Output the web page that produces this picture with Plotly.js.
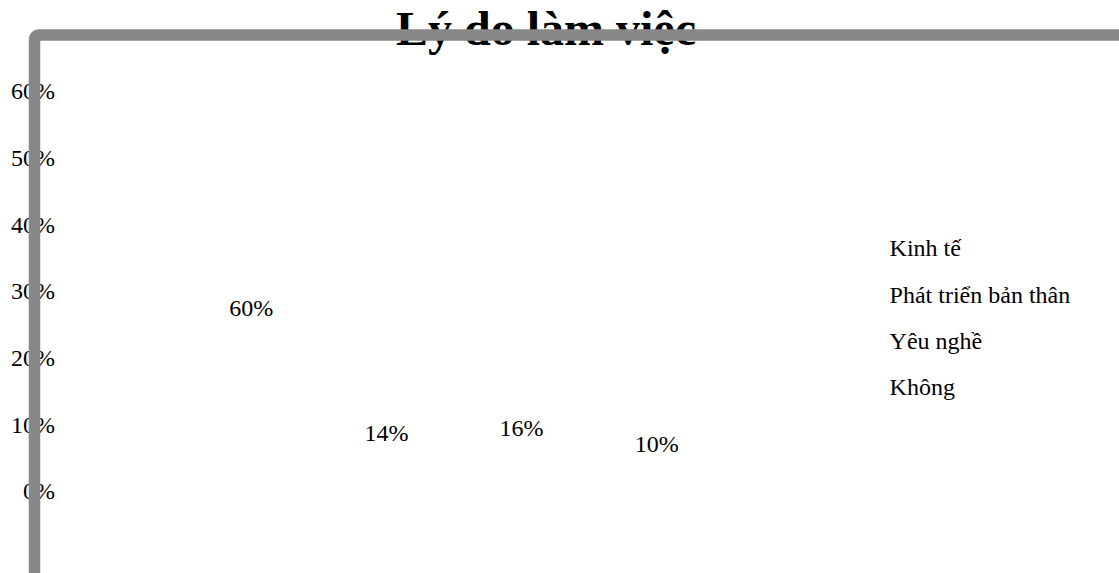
<!DOCTYPE html>
<html>
<head>
<meta charset="utf-8">
<script src="https://cdn.plot.ly/plotly-3.0.1.min.js"></script>
<style>
  html, body { margin: 0; padding: 0; background: #ffffff; }
  #chart { width: 1119px; height: 573px; }
</style>
</head>
<body>
<div id="chart"></div>
<script>
// ---- data ----
const chartTitle = 'Lý do làm việc';
const groupLabel = ['Lý do'];
const reasons = ['Kinh tế', 'Phát triển bản thân', 'Yêu nghề', 'Không'];
const shares = [0.60, 0.14, 0.16, 0.10];
const tickValues = [0, 0.1, 0.2, 0.3, 0.4, 0.5, 0.6];
const tickLabels = ['0%', '10%', '20%', '30%', '40%', '50%', '60%'];

const serif = 'Liberation Serif, Times New Roman, serif';

const traces = reasons.map((name, i) => ({
  type: 'bar',
  name: name,
  x: groupLabel,
  y: [shares[i]],
  yaxis: 'y2',
  legendgroup: 'g' + i,
  marker: { color: 'rgba(0,0,0,0)', line: { width: 0 } },
  texttemplate: '%{y:.0%}',
  textposition: 'inside',
  insidetextanchor: 'middle',
  textangle: 0,
  constraintext: 'none',
  insidetextfont: { family: serif, size: 24, color: '#000000' },
  hoverinfo: 'skip'
}));

// helper trace to give the visible axis its 0–60% scale
traces.push({
  type: 'scatter', x: groupLabel, y: [0], mode: 'none',
  showlegend: false, hoverinfo: 'skip', yaxis: 'y'
});

const layout = {
  width: 1119,
  height: 573,
  paper_bgcolor: '#ffffff',
  plot_bgcolor: 'rgba(0,0,0,0)',
  margin: { l: 58, r: 269, t: 91, b: 82 },
  font: { family: serif, size: 24, color: '#000000' },
  title: {
    text: '<b>' + chartTitle + '</b>',
    font: { family: serif, size: 48, color: '#000000' },
    x: 546 / 1119, xref: 'container', xanchor: 'center',
    y: 0.9508, yref: 'container', yanchor: 'middle'
  },
  barmode: 'group',
  bargap: 0.317,
  bargroupgap: 0,
  showlegend: true,
  legend: {
    x: 0.9995, xanchor: 'left',
    y: 0.665, yanchor: 'top',
    traceorder: 'grouped',
    tracegroupgap: 12,
    font: { family: serif, size: 24, color: '#000000' },
    bgcolor: 'rgba(0,0,0,0)'
  },
  xaxis: { visible: false, type: 'category' },
  yaxis: {
    range: [0, 0.6],
    tickmode: 'array',
    tickvals: tickValues,
    ticktext: tickLabels,
    showgrid: false,
    zeroline: false,
    showline: false,
    ticks: '',
    ticklabelstandoff: 2,
    tickfont: { family: serif, size: 24, color: '#000000' }
  },
  yaxis2: {
    overlaying: 'y',
    range: [-0.0369, 0.7008],
    visible: false,
    showgrid: false,
    zeroline: false
  },
  shapes: [{
    type: 'path',
    xref: 'paper', yref: 'paper',
    layer: 'above',
    path: 'M -0.02967,-0.25 L -0.02967,1.1275 Q -0.02967,1.14 -0.02336,1.14 L 1.36,1.14',
    line: { color: '#888888', width: 11.5 },
    fillcolor: 'rgba(0,0,0,0)'
  }]
};

// in the original chart the frame line lies over the title:
// put the upper shape layer last in its svg, after the title layer
function raiseFrame() {
  const gd = document.getElementById('chart');
  const above = gd.querySelector('.layer-above');
  if (above && above.parentNode && above.parentNode.lastChild !== above) {
    above.parentNode.appendChild(above);
  }
}

Plotly.newPlot('chart', traces, layout, { displayModeBar: false, staticPlot: true }).then(raiseFrame);
raiseFrame();
</script>
</body>
</html>
